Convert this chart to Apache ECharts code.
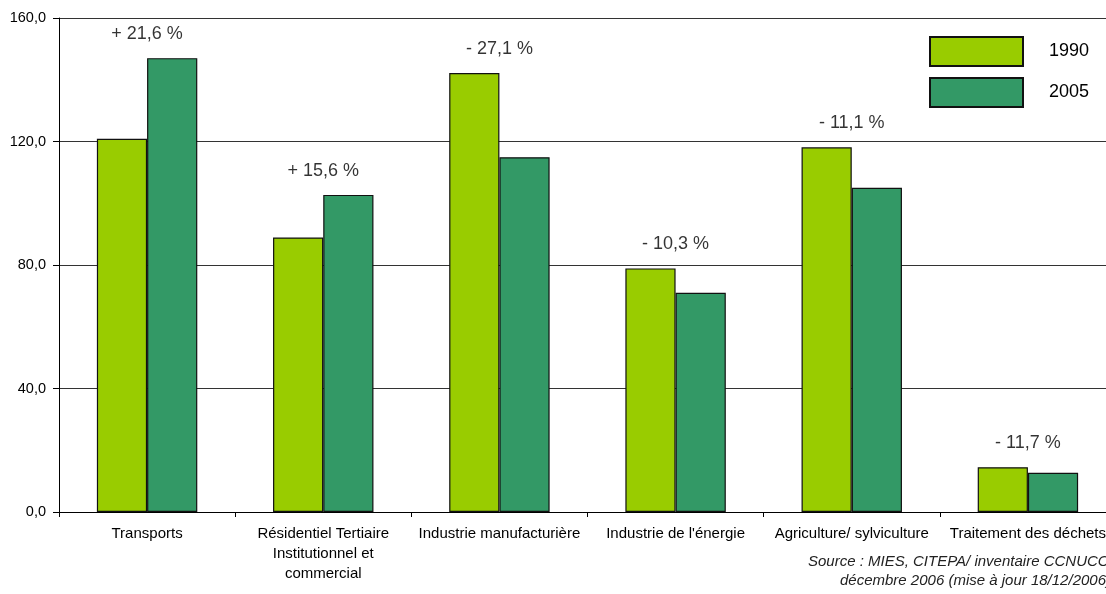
<!DOCTYPE html>
<html>
<head>
<meta charset="utf-8">
<script src="https://cdn.jsdelivr.net/npm/echarts@6/dist/echarts.min.js"></script>
<style>
html,body{margin:0;padding:0;background:#fff;}
#chart{width:1106px;height:594px;}
</style>
</head>
<body>
<div id="chart"></div>
<script>
const categories = ['Transports', 'Résidentiel Tertiaire\nInstitutionnel et\ncommercial', 'Industrie manufacturière', "Industrie de l'énergie", 'Agriculture/ sylviculture', 'Traitement des déchets'];
const values1990 = [120.9, 88.9, 142.2, 78.9, 118.1, 14.5];
const values2005 = [147.0, 102.7, 114.9, 71.0, 105.0, 12.7];
const changes = ['+ 21,6 %', '+ 15,6 %', '- 27,1 %', '- 10,3 %', '- 11,1 %', '- 11,7 %'];
const yTicks = [0, 40, 80, 120, 160];
const sourceLines = ['Source : MIES, CITEPA/ inventaire CCNUCC', 'décembre 2006 (mise à jour 18/12/2006)'];

const FONT = '"Liberation Sans", Arial, sans-serif';
const chart = echarts.init(document.getElementById('chart'), null, {renderer: 'canvas'});
const annotVals = values1990.map((v, i) => Math.max(v, values2005[i]));

chart.setOption({
  animation: false,
  backgroundColor: '#ffffff',
  textStyle: {fontFamily: FONT},
  grid: {left: 59, width: 1057, top: 18, bottom: 82, containLabel: false, outerBoundsMode: 'none'},
  legend: {
    data: ['1990', '2005'],
    orient: 'vertical',
    left: 929, top: 36, padding: 0,
    itemWidth: 93, itemHeight: 29, itemGap: 10,
    icon: 'rect',
    textStyle: {fontSize: 18, color: '#000', fontFamily: FONT, padding: [0, 0, 0, 21]}
  },
  xAxis: {
    type: 'category',
    data: categories,
    axisLine: {lineStyle: {color: '#000', width: 1}},
    axisTick: {show: true, length: 5, lineStyle: {color: '#000'}},
    axisLabel: {interval: 0, fontSize: 15, color: '#000', fontFamily: FONT, lineHeight: 20, margin: 12}
  },
  yAxis: {
    type: 'value',
    min: yTicks[0], max: yTicks[yTicks.length - 1], interval: 40,
    axisLine: {show: true, lineStyle: {color: '#000', width: 1}},
    axisTick: {show: true, length: 6, lineStyle: {color: '#000'}},
    axisLabel: {fontSize: 14.5, color: '#000', fontFamily: FONT, margin: 13,
      formatter: v => v.toFixed(1).replace('.', ',')},
    splitLine: {show: true, lineStyle: {color: '#333', width: 1}}
  },
  series: [
    {
      name: '1990', type: 'bar', data: values1990,
      barGap: '0%', barCategoryGap: '43%',
      itemStyle: {color: '#99CC00', borderColor: '#111', borderWidth: 1.2}
    },
    {
      name: '2005', type: 'bar', data: values2005,
      barGap: '0%', barCategoryGap: '43%',
      itemStyle: {color: '#339966', borderColor: '#111', borderWidth: 1.2}
    },
    {
      name: 'variation', type: 'scatter', data: annotVals,
      symbolSize: 0, silent: true,
      label: {show: true, position: 'top', distance: 15, fontSize: 18, color: '#000', fontFamily: FONT,
        formatter: p => changes[p.dataIndex]}
    }
  ],
  graphic: [
    {type: 'text', left: 808, top: 554, style: {text: sourceLines[0], font: 'italic 15px ' + FONT, fill: '#222'}},
    {type: 'text', left: 840, top: 573, style: {text: sourceLines[1], font: 'italic 15px ' + FONT, fill: '#222'}}
  ]
});
</script>
</body>
</html>
